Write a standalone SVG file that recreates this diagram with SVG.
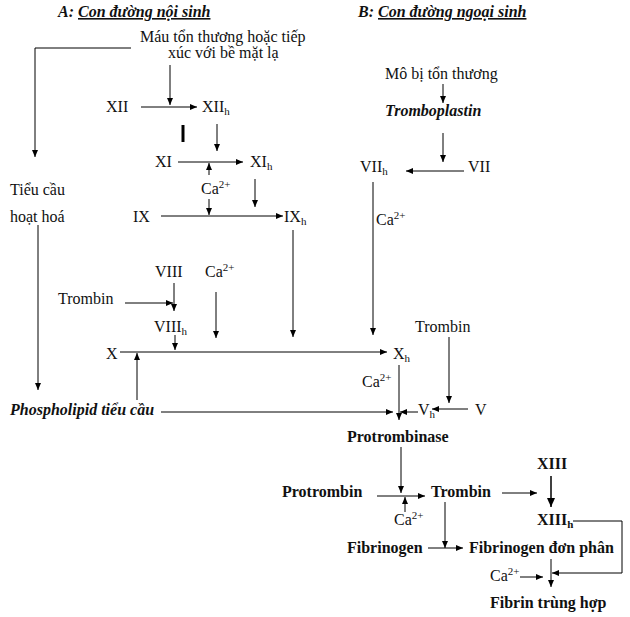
<svg xmlns="http://www.w3.org/2000/svg" width="630" height="617" viewBox="0 0 630 617">
<style>
text{font-family:"Liberation Serif","Times New Roman",serif;font-size:16px;fill:#111}
.b{font-weight:bold}
.bi{font-weight:bold;font-style:italic}
.t{font-weight:bold;font-style:italic;font-size:16px}
.u{text-decoration:underline}
.sub{font-size:11px}
.sup{font-size:11px}
.c path{fill:none;stroke:#000;stroke-width:1;marker-end:url(#a)}
</style>
<defs>
<marker id="a" markerUnits="userSpaceOnUse" markerWidth="8" markerHeight="6" refX="7" refY="3" orient="auto"><path d="M0,0 L7,3 L0,6 Z" fill="#000"/></marker>
<marker id="a2" markerUnits="userSpaceOnUse" markerWidth="10" markerHeight="8" refX="9" refY="4" orient="auto"><path d="M0,0 L9,4 L0,8 Z" fill="#000"/></marker>
</defs>
<g id="titleA"><text class="t" x="58" y="17">A: <tspan class="u">Con đường nội sinh</tspan></text></g>
<g id="titleB"><text class="t" x="358" y="17">B: <tspan class="u">Con đường ngoại sinh</tspan></text></g>
<g id="mau"><text x="140" y="42">Máu tổn thương hoặc tiếp</text><text x="168" y="58">xúc với bề mặt lạ</text></g>
<g id="XII"><text x="106" y="112">XII</text></g>
<g id="XIIh"><text x="202" y="112">XII<tspan class="sub" dy="3">h</tspan></text></g>
<g id="XI"><text x="155" y="167">XI</text></g>
<g id="XIh"><text x="250" y="167">XI<tspan class="sub" dy="3">h</tspan></text></g>
<g id="ca1"><text x="201" y="194">Ca<tspan class="sup" dy="-6">2+</tspan></text></g>
<g id="IX"><text x="133" y="222">IX</text></g>
<g id="IXh"><text x="284" y="222">IX<tspan class="sub" dy="3">h</tspan></text></g>
<g id="tieucau"><text x="10" y="195">Tiểu cầu</text><text x="10" y="222">hoạt hoá</text></g>
<g id="VIII"><text x="155" y="277">VIII</text></g>
<g id="ca2"><text x="205" y="277">Ca<tspan class="sup" dy="-6">2+</tspan></text></g>
<g id="trombin1"><text x="58" y="304">Trombin</text></g>
<g id="VIIIh"><text x="154" y="332">VIII<tspan class="sub" dy="3">h</tspan></text></g>
<g id="X"><text x="106" y="359">X</text></g>
<g id="Xh"><text x="393" y="359">X<tspan class="sub" dy="3">h</tspan></text></g>
<g id="phospholipid"><text class="bi" x="10" y="415">Phospholipid tiểu cầu</text></g>
<g id="ca3"><text x="362" y="387">Ca<tspan class="sup" dy="-6">2+</tspan></text></g>
<g id="Vh"><text x="418" y="415">V<tspan class="sub" dy="3">h</tspan></text></g>
<g id="V"><text x="475" y="415">V</text></g>
<g id="trombin2"><text x="415" y="332">Trombin</text></g>
<g id="mo"><text x="385" y="79">Mô bị tổn thương</text></g>
<g id="tromboplastin"><text class="bi" x="385" y="116">Tromboplastin</text></g>
<g id="VIIh"><text x="360" y="172">VII<tspan class="sub" dy="3">h</tspan></text></g>
<g id="VII"><text x="468" y="172">VII</text></g>
<g id="ca4"><text x="376" y="225">Ca<tspan class="sup" dy="-6">2+</tspan></text></g>
<g id="protrombinase"><text class="b" x="347" y="442">Protrombinase</text></g>
<g id="protrombin"><text class="b" x="282" y="497">Protrombin</text></g>
<g id="trombin3"><text class="b" x="431" y="497">Trombin</text></g>
<g id="ca5"><text x="394" y="525">Ca<tspan class="sup" dy="-6">2+</tspan></text></g>
<g id="XIII"><text class="b" x="537" y="469">XIII</text></g>
<g id="XIIIh"><text class="b" x="537" y="525">XIII<tspan class="sub" dy="3">h</tspan></text></g>
<g id="fibrinogen"><text class="b" x="347" y="553">Fibrinogen</text></g>
<g id="donphan"><text class="b" x="469" y="553">Fibrinogen đơn phân</text></g>
<g id="ca6"><text x="490" y="581">Ca<tspan class="sup" dy="-6">2+</tspan></text></g>
<g id="fibrin"><text class="b" x="490" y="608">Fibrin trùng hợp</text></g>
<g id="connectors" class="c">
<path d="M131,48 H35 V157"/>
<path d="M170,65 V105"/>
<path d="M141,107 H197"/>
<path d="M183,125 V142" style="stroke-width:3;marker-end:none"/>
<path d="M217,124 V151"/>
<path d="M178,162 H243"/>
<path d="M209,175 V163"/>
<path d="M209,199 V215"/>
<path d="M255,179 V207"/>
<path d="M161,216 H283"/>
<path d="M293,230 V337"/>
<path d="M38,225 V390"/>
<path d="M174,283 V311"/>
<path d="M125,303 H173"/>
<path d="M216,292 V338"/>
<path d="M175,335 V350"/>
<path d="M120,352 H387"/>
<path d="M137,400 V353"/>
<path d="M161,412 H393"/>
<path d="M399,365 V420"/>
<path d="M418,412 H400"/>
<path d="M468,409 H432"/>
<path d="M449,337 V403"/>
<path d="M464,171 H406"/>
<path d="M443,133 V162"/>
<path d="M443,84 V103"/>
<path d="M373,182 V335"/>
<path d="M401,447 V493"/>
<path d="M377,496 H425"/>
<path d="M405,512 V497"/>
<path d="M502,493 H537"/>
<path d="M551,476 V507" style="stroke-width:1.5;marker-end:url(#a2)"/>
<path d="M573,521 H622 V573 H552"/>
<path d="M445,502 V548"/>
<path d="M428,548 H463"/>
<path d="M551,559 V587"/>
<path d="M520,577 H543"/>
</g>
</svg>
